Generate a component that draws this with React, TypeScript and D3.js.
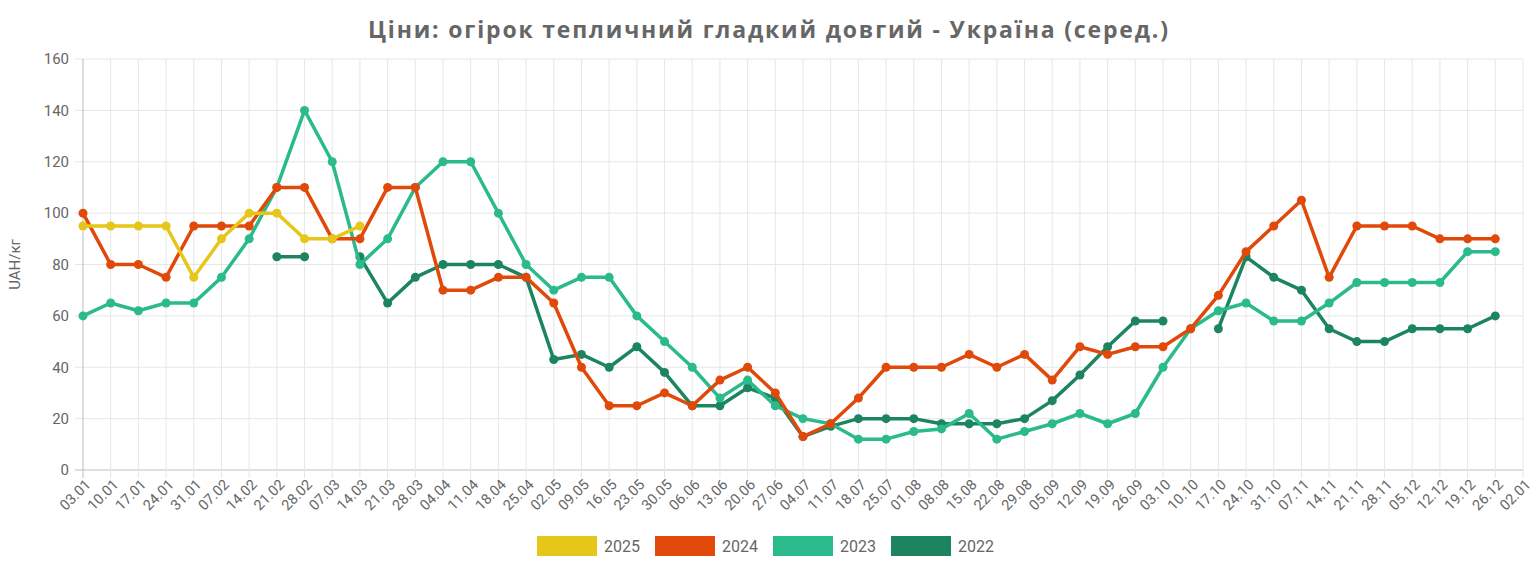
import * as d3 from "d3";
import { useEffect, useRef } from "react";

const categories = [
  "03.01", "10.01", "17.01", "24.01", "31.01", "07.02", "14.02", "21.02", "28.02", "07.03",
  "14.03", "21.03", "28.03", "04.04", "11.04", "18.04", "25.04", "02.05", "09.05", "16.05",
  "23.05", "30.05", "06.06", "13.06", "20.06", "27.06", "04.07", "11.07", "18.07", "25.07",
  "01.08", "08.08", "15.08", "22.08", "29.08", "05.09", "12.09", "19.09", "26.09", "03.10",
  "10.10", "17.10", "24.10", "31.10", "07.11", "14.11", "21.11", "28.11", "05.12", "12.12",
  "19.12", "26.12", "02.01",
];

const _ = null;

const values2025 = [95, 95, 95, 95, 75, 90, 100, 100, 90, 90, 95];

const values2024 = [
  100, 80, 80, 75, 95, 95, 95, 110, 110, 90, 90, 110, 110, 70, 70, 75, 75, 65, 40, 25,
  25, 30, 25, 35, 40, 30, 13, 18, 28, 40, 40, 40, 45, 40, 45, 35, 48, 45, 48, 48,
  55, 68, 85, 95, 105, 75, 95, 95, 95, 90, 90, 90, _,
];

const values2023 = [
  60, 65, 62, 65, 65, 75, 90, 110, 140, 120, 80, 90, 110, 120, 120, 100, 80, 70, 75, 75,
  60, 50, 40, 28, 35, 25, 20, 18, 12, 12, 15, 16, 22, 12, 15, 18, 22, 18, 22, 40,
  55, 62, 65, 58, 58, 65, 73, 73, 73, 73, 85, 85, _,
];

const values2022 = [
  _, _, _, _, _, _, _, 83, 83, _, 83, 65, 75, 80, 80, 80, 75, 43, 45, 40,
  48, 38, 25, 25, 32, 28, 13, 17, 20, 20, 20, 18, 18, 18, 20, 27, 37, 48, 58, 58,
  _, 55, 83, 75, 70, 55, 50, 50, 55, 55, 55, 60, _,
];

const seriesNames = ["2025", "2024", "2023", "2022"];
const seriesColors = ["#e6c619", "#e0490a", "#2aba8b", "#1c8560"];
const seriesValues = [values2025, values2024, values2023, values2022];

const yTicks = [0, 20, 40, 60, 80, 100, 120, 140, 160];

export default function App() {
  const svgRef = useRef<SVGSVGElement | null>(null);

  useEffect(() => {
    if (!svgRef.current) return;
    const width = 1536;
    const height = 569;
    const margin = { top: 59, right: 13, bottom: 99, left: 83 };

    const svg = d3.select(svgRef.current);
    svg.selectAll("*").remove();
    svg.attr("width", width).attr("height", height).attr("viewBox", `0 0 ${width} ${height}`);

    const x = d3
      .scalePoint<string>()
      .domain(categories)
      .range([margin.left, width - margin.right]);
    const y = d3
      .scaleLinear()
      .domain([0, 160])
      .range([height - margin.bottom, margin.top]);

    const font = "Roboto, 'Liberation Sans', sans-serif";

    // title
    svg
      .append("text")
      .attr("x", 768)
      .attr("y", 38)
      .attr("text-anchor", "middle")
      .attr("fill", "#666")
      .attr("font-family", "'Open Sans', sans-serif")
      .attr("font-weight", 700)
      .attr("font-size", 23)
      .attr("textLength", 800)
      .attr("lengthAdjust", "spacing")
      .text("Ціни: огірок тепличний гладкий довгий - Україна (серед.)");

    // grid
    const grid = svg.append("g");
    grid
      .selectAll(".hg")
      .data(yTicks)
      .enter()
      .append("line")
      .attr("x1", margin.left - 8)
      .attr("x2", width - margin.right)
      .attr("y1", (d) => y(d))
      .attr("y2", (d) => y(d))
      .attr("stroke", (d) => (d === 0 ? "#bdbdbd" : "#e6e6e6"))
      .attr("stroke-width", 1);
    grid
      .selectAll(".vg")
      .data(categories)
      .enter()
      .append("line")
      .attr("x1", (d) => x(d)!)
      .attr("x2", (d) => x(d)!)
      .attr("y1", margin.top)
      .attr("y2", height - margin.bottom + 8)
      .attr("stroke", (d, i) => (i === 0 ? "#bdbdbd" : "#e6e6e6"))
      .attr("stroke-width", 1);

    // y labels
    svg
      .append("g")
      .selectAll("text")
      .data(yTicks)
      .enter()
      .append("text")
      .attr("x", margin.left - 14)
      .attr("y", (d) => y(d))
      .attr("dy", "0.35em")
      .attr("text-anchor", "end")
      .attr("fill", "#666")
      .attr("font-family", font)
      .attr("font-size", 15)
      .text((d) => d);

    svg
      .append("text")
      .attr("transform", `translate(20,${(margin.top + height - margin.bottom) / 2}) rotate(-90)`)
      .attr("text-anchor", "middle")
      .attr("fill", "#666")
      .attr("font-family", font)
      .attr("font-size", 15)
      .text("UAH/кг");

    // x labels
    svg
      .append("g")
      .selectAll("text")
      .data(categories)
      .enter()
      .append("text")
      .attr("transform", (d) => `translate(${x(d)! + 5},${height - margin.bottom + 12}) rotate(-45)`)
      .attr("text-anchor", "end")
      .attr("dy", "0.35em")
      .attr("fill", "#666")
      .attr("font-family", font)
      .attr("font-size", 14.5)
      .text((d) => d);

    // series, last drawn on top
    const line = d3
      .line<number | null>()
      .defined((d) => d != null)
      .x((_d, i) => x(categories[i])!)
      .y((d) => y(d as number));

    for (let s = seriesNames.length - 1; s >= 0; s--) {
      const vals = seriesValues[s];
      const g = svg.append("g");
      g.append("path")
        .datum(vals)
        .attr("d", line)
        .attr("fill", "none")
        .attr("stroke", seriesColors[s])
        .attr("stroke-width", 3.5)
        .attr("stroke-linejoin", "round");
      g.selectAll("circle")
        .data(vals.map((v, i) => ({ v, i })).filter((p) => p.v != null))
        .enter()
        .append("circle")
        .attr("cx", (p) => x(categories[p.i])!)
        .attr("cy", (p) => y(p.v as number))
        .attr("r", 4.5)
        .attr("fill", seriesColors[s]);
    }

    // legend
    const legend = svg.append("g");
    seriesNames.forEach((name, i) => {
      const lx = 537 + i * 118;
      legend
        .append("rect")
        .attr("x", lx)
        .attr("y", 536)
        .attr("width", 60)
        .attr("height", 20)
        .attr("fill", seriesColors[i]);
      legend
        .append("text")
        .attr("x", lx + 67)
        .attr("y", 546)
        .attr("dy", "0.35em")
        .attr("fill", "#666")
        .attr("font-family", font)
        .attr("font-size", 16)
        .text(name);
    });
  }, []);

  return (
    <div style={{ position: "absolute", left: 0, top: 0 }}>
      <svg ref={svgRef} style={{ display: "block" }} />
    </div>
  );
}
